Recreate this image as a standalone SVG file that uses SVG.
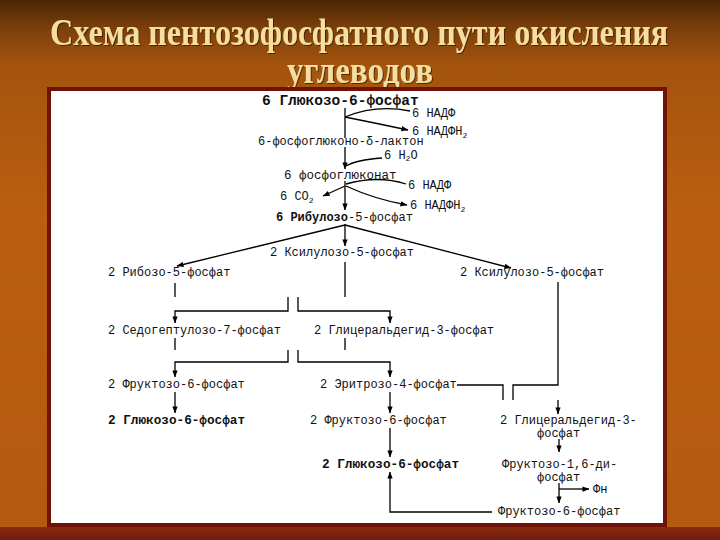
<svg xmlns="http://www.w3.org/2000/svg" width="720" height="540" viewBox="0 0 720 540">
<defs>
<linearGradient id="bg" x1="0" y1="0" x2="0" y2="1">
<stop offset="0" stop-color="#4a2606"/>
<stop offset="0.05" stop-color="#7a3e0a"/>
<stop offset="0.12" stop-color="#a4540e"/>
<stop offset="0.4" stop-color="#ba5f10"/>
<stop offset="1" stop-color="#b45a0f"/>
</linearGradient>
<linearGradient id="band" x1="0" y1="0" x2="0" y2="1">
<stop offset="0" stop-color="#8a2a10"/>
<stop offset="1" stop-color="#6e1e0c"/>
</linearGradient>
<filter id="sh" x="-5%" y="-20%" width="110%" height="140%">
<feDropShadow dx="1" dy="1" stdDeviation="0.6" flood-color="#3a1a04" flood-opacity="0.8"/>
</filter>
<marker id="ar" viewBox="0 0 8 6" refX="7.5" refY="3" markerWidth="7" markerHeight="6" markerUnits="userSpaceOnUse" orient="auto">
<path d="M0,0 L8,3 L0,6 z" fill="#000"/>
</marker>
</defs>
<style>
.t{font-family:"Liberation Mono","DejaVu Sans Mono",monospace;font-size:12px;fill:#111}
.b{font-weight:bold}
.s{font-size:8px}
.title{font-family:"Liberation Serif","Times New Roman",serif;font-weight:bold;font-size:37px;fill:#f4dea0}
.c path,.c line,.c polyline{fill:none;stroke:#000;stroke-width:1.3}
.a{marker-end:url(#ar)}
</style>
<rect x="0" y="0" width="720" height="540" fill="url(#bg)"/>
<rect x="0" y="527" width="720" height="13" fill="url(#band)"/>
<g id="title" filter="url(#sh)">
<text class="title" x="50" y="45" textLength="618" lengthAdjust="spacingAndGlyphs">Схема пентозофосфатного пути окисления</text>
<text class="title" x="287" y="83" textLength="146" lengthAdjust="spacingAndGlyphs">углеводов</text>
</g>
<rect x="49" y="89" width="616" height="436" fill="#fff" stroke="#701208" stroke-width="4"/>

<g class="c" id="connectors">
<line x1="345" y1="108" x2="345" y2="138"/>
<path class="a" d="M345,147 L345,169"/>
<path class="a" d="M345,181 L345,210"/>
<path class="a" d="M345,224 L345,246"/>
<path d="M345,117 C362,110 385,106 410,111"/>
<path class="a" d="M345,117 Q375,123 408,130"/>
<path d="M382,158 Q356,160 346,166"/>
<path d="M346,184 Q378,175 406,184"/>
<path class="a" d="M345,186 L323,196"/>
<path class="a" d="M346,186 Q374,199 407,205"/>
<path class="a" d="M345,225 L177,266"/>
<path class="a" d="M345,225 L511,268"/>
<line x1="175" y1="283" x2="175" y2="297"/>
<line x1="345" y1="262" x2="345" y2="297"/>
<path class="a" d="M288,297 L288,311 L175,311 L175,323"/>
<path class="a" d="M298,297 L298,311 L390,311 L390,323"/>
<polyline points="558,282 558,385 513,385 513,400"/>
<polyline points="457,385 503,385 503,400"/>
<path class="a" d="M558,400 L558,414"/>
<line x1="175" y1="338" x2="175" y2="350"/>
<line x1="345" y1="338" x2="345" y2="350"/>
<path class="a" d="M288,350 L288,362 L175,362 L175,377"/>
<path class="a" d="M298,350 L298,362 L390,362 L390,377"/>
<path class="a" d="M175,392 L175,413"/>
<path class="a" d="M390,392 L390,413"/>
<path class="a" d="M390,428 L390,457"/>
<path class="a" d="M492,512 L390,512 L390,472"/>
<path class="a" d="M559,439 L559,452"/>
<path class="a" d="M559,483 L559,503"/>
<path class="a" d="M559,489 L589,489"/>
</g>

<g id="n1"><text class="t b" x="262" y="105" style="font-size:14.5px">6 Глюкозо-6-фосфат</text></g>
<g id="n2"><text class="t" x="412" y="117">6 НАДФ</text></g>
<g id="n3"><text class="t" x="412" y="135">6 НАДФН<tspan class="s" dy="3">2</tspan></text></g>
<g id="n4"><text class="t" x="258" y="145">6-фосфоглюконо-δ-лактон</text></g>
<g id="n5"><text class="t" x="384" y="159">6 Н<tspan class="s" dy="2">2</tspan><tspan dy="-2">О</tspan></text></g>
<g id="n6"><text class="t" x="284" y="179" style="font-size:12.5px">6 фосфоглюконат</text></g>
<g id="n7"><text class="t" x="408" y="189">6 НАДФ</text></g>
<g id="n8"><text class="t" x="280" y="200">6 СО<tspan class="s" dy="3">2</tspan></text></g>
<g id="n9"><text class="t" x="410" y="209">6 НАДФН<tspan class="s" dy="3">2</tspan></text></g>
<g id="n10"><text class="t" x="276" y="221"><tspan class="b">6 Рибулозо</tspan>-5-фосфат</text></g>
<g id="n11"><text class="t" x="270" y="256">2 Ксилулозо-5-фосфат</text></g>
<g id="n12"><text class="t" x="108" y="276">2 Рибозо-5-фосфат</text></g>
<g id="n13"><text class="t" x="460" y="276">2 Ксилулозо-5-фосфат</text></g>
<g id="n14"><text class="t" x="108" y="334">2 Седогептулозо-7-фосфат</text></g>
<g id="n15"><text class="t" x="314" y="334">2 Глицеральдегид-3-фосфат</text></g>
<g id="n16"><text class="t" x="108" y="388">2 Фруктозо-6-фосфат</text></g>
<g id="n17"><text class="t" x="320" y="388">2 Эритрозо-4-фосфат</text></g>
<g id="n18"><text class="t b" x="108" y="424" style="font-size:12.7px">2 Глюкозо-6-фосфат</text></g>
<g id="n19"><text class="t" x="310" y="424">2 Фруктозо-6-фосфат</text></g>
<g id="n20"><text class="t" x="500" y="424">2 Глицеральдегид-3-</text><text class="t" x="537" y="437">фосфат</text></g>
<g id="n21"><text class="t b" x="322" y="468" style="font-size:12.7px">2 Глюкозо-6-фосфат</text></g>
<g id="n22"><text class="t" x="502" y="468">Фруктозо-1,6-ди-</text><text class="t" x="537" y="481">фосфат</text></g>
<g id="n23"><text class="t" x="593" y="493">Фн</text></g>
<g id="n24"><text class="t" x="498" y="515">Фруктозо-6-фосфат</text></g>
</svg>
